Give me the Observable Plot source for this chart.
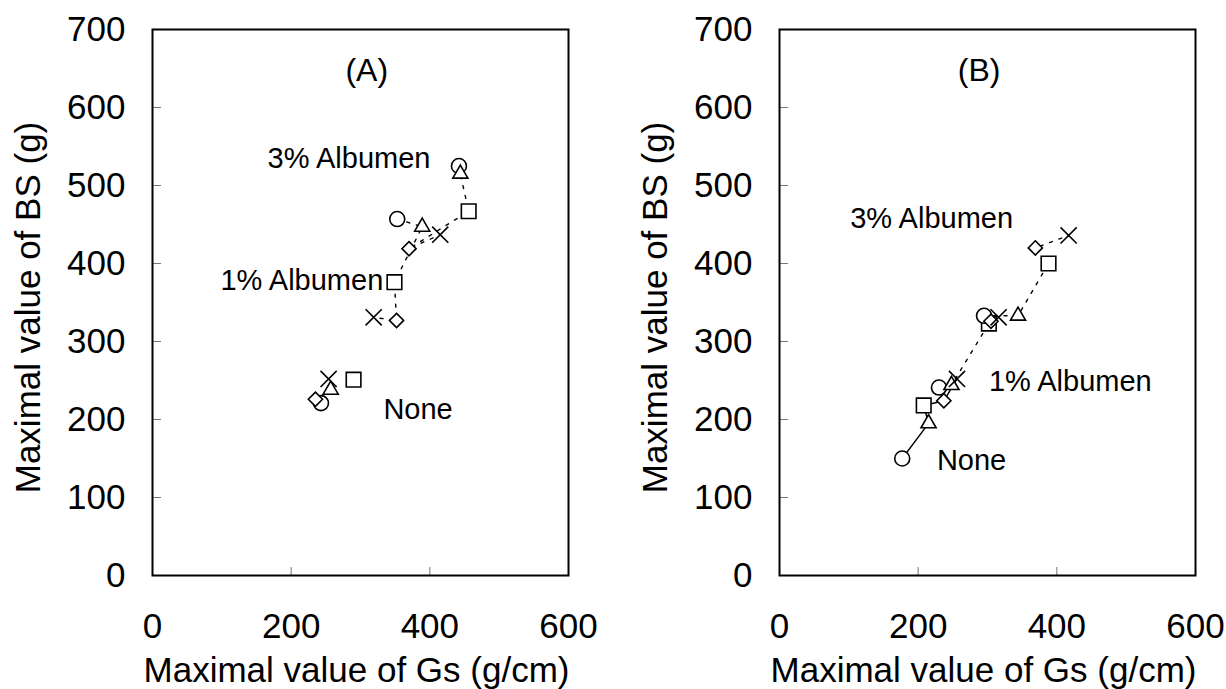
<!DOCTYPE html>
<html>
<head>
<meta charset="utf-8">
<script src="https://cdn.jsdelivr.net/npm/d3@7"></script>
<script src="https://cdn.jsdelivr.net/npm/@observablehq/plot@0.6"></script>
<style>
  html, body { margin: 0; padding: 0; background: #fff; }
  #wrap { display: flex; width: 1226px; height: 689px; }
  svg { overflow: visible; }
</style>
</head>
<body>
<div id="wrap"></div>
<script>
// ---- data (marker order: circle, triangle, square, diamond, times) ----
const markerNames = ["circle", "triangle", "square", "diamond", "times"];
const groupNames = ["None", "1% Albumen", "3% Albumen"];

// Panel (A)
const gsA_none = [243, 257, 290, 235, 254];
const bsA_none = [221, 238, 251, 226, 252];
const gsA_1 = [353, 389, 349, 352, 319];
const bsA_1 = [457, 447, 376, 327, 331];
const gsA_3 = [442, 444, 456, 370, 415];
const bsA_3 = [525, 515, 467, 419, 437];

// Panel (B)
const gsB_none = [177, 215, 208, 237, 256];
const bsB_none = [150, 195, 218, 224, 252];
const gsB_1 = [230, 248, 302, 305, 316];
const bsB_1 = [241, 244, 323, 326, 331];
const gsB_3 = [295, 344, 388, 369, 417];
const bsB_3 = [333, 333, 400, 420, 436];

// tick values
const xTicks = [0, 200, 400, 600];
const yTicks = [0, 100, 200, 300, 400, 500, 600, 700];

// annotation texts and their anchor values
const panelTitles = ["(A)", "(B)"];
const labelTexts = ["None", "1% Albumen", "3% Albumen"];
const labelGsA = [333, 98, 166];
const labelBsA = [212, 378, 534];
const labelGsB = [227, 302, 102];
const labelBsB = [147, 248, 457];
const titleGs = [309, 288];
const titleBs = [647, 647];

const xTitle = "Maximal value of Gs (g/cm)";
const yTitle = "Maximal value of BS (g)";

// ---- styles ----
const symbolOf = {circle: "circle", triangle: "triangle2", square: "square2", diamond: "diamond2", times: "times"};
const radiusOf = {circle: 7.5, triangle: 7.2, square: 9.3, diamond: 6.4, times: 7.4};
const drawOrder = ["square", "circle", "triangle", "diamond", "times"];
const FONT = "'Liberation Sans', Arial, Helvetica, sans-serif";

function rowsFor(gsArrs, bsArrs) {
  return groupNames.flatMap((g, gi) =>
    markerNames.map((m, mi) => ({group: g, marker: m, gs: gsArrs[gi][mi], bs: bsArrs[gi][mi]})));
}

function panel({rows, lineStyles, labelGs, labelBs, title, tGs, tBs, marginLeft, marginRight}) {
  const marks = [];
  // axes with inward ticks
  marks.push(Plot.axisX({ticks: xTicks, tickSize: -8, tickPadding: 46, label: null, stroke: "#777", strokeWidth: 1, fill: "black", fontSize: 35}));
  marks.push(Plot.axisY({ticks: yTicks, tickSize: -9, tickPadding: 36, label: null, stroke: "#777", strokeWidth: 1, fill: "black", fontSize: 35}));
  // connecting lines
  groupNames.forEach((g, gi) => {
    const ls = lineStyles[gi];
    if (!ls) return;
    marks.push(Plot.line(rows.filter(d => d.group === g), {
      x: "gs", y: "bs", stroke: "black", strokeWidth: 1.4,
      strokeDasharray: ls === "solid" ? null : ls
    }));
  });
  // markers
  drawOrder.forEach(m => {
    marks.push(Plot.dot(rows.filter(d => d.marker === m), {
      x: "gs", y: "bs", symbol: () => symbolOf[m], r: radiusOf[m],
      fill: "white", stroke: "black", strokeWidth: 1.6
    }));
  });
  // annotations
  marks.push(Plot.text(labelTexts, {
    x: (d, i) => labelGs[i], y: (d, i) => labelBs[i], text: d => d,
    textAnchor: "start", lineAnchor: "middle", fontSize: 29, fill: "black"
  }));
  marks.push(Plot.text([title], {x: () => tGs, y: () => tBs, text: d => d, fontSize: 32, lineAnchor: "middle", fill: "black"}));
  // axis titles
  marks.push(Plot.text([yTitle], {frameAnchor: "left", text: d => d, rotate: -90, dx: -123.5, dy: 5,
    textAnchor: "middle", lineAnchor: "middle", fontSize: 35, fill: "black"}));
  marks.push(Plot.text([xTitle], {frameAnchor: "bottom", text: d => d, dx: -4, dy: 95.5,
    textAnchor: "middle", lineAnchor: "middle", fontSize: 35, fill: "black"}));
  marks.push(Plot.frame({stroke: "black", strokeWidth: 2}));

  return Plot.plot({
    width: 613, height: 689,
    marginLeft, marginRight, marginTop: 29, marginBottom: 114,
    style: {fontFamily: FONT, fontSize: "35px", background: "white", color: "black", overflow: "visible"},
    x: {domain: [0, 600]},
    y: {domain: [0, 700]},
    symbol: {type: "identity"},
    marks
  });
}

const rowsA = rowsFor([gsA_none, gsA_1, gsA_3], [bsA_none, bsA_1, bsA_3]);
const rowsB = rowsFor([gsB_none, gsB_1, gsB_3], [bsB_none, bsB_1, bsB_3]);

const wrap = document.getElementById("wrap");
wrap.appendChild(panel({rows: rowsA, lineStyles: [null, "3,7", "3,7"], labelGs: labelGsA, labelBs: labelBsA,
  title: panelTitles[0], tGs: titleGs[0], tBs: titleBs[0], marginLeft: 152, marginRight: 45}));
wrap.appendChild(panel({rows: rowsB, lineStyles: ["solid", "3,7", "3,7"], labelGs: labelGsB, labelBs: labelBsB,
  title: panelTitles[1], tGs: titleGs[1], tBs: titleBs[1], marginLeft: 166, marginRight: 31}));
</script>
</body>
</html>
